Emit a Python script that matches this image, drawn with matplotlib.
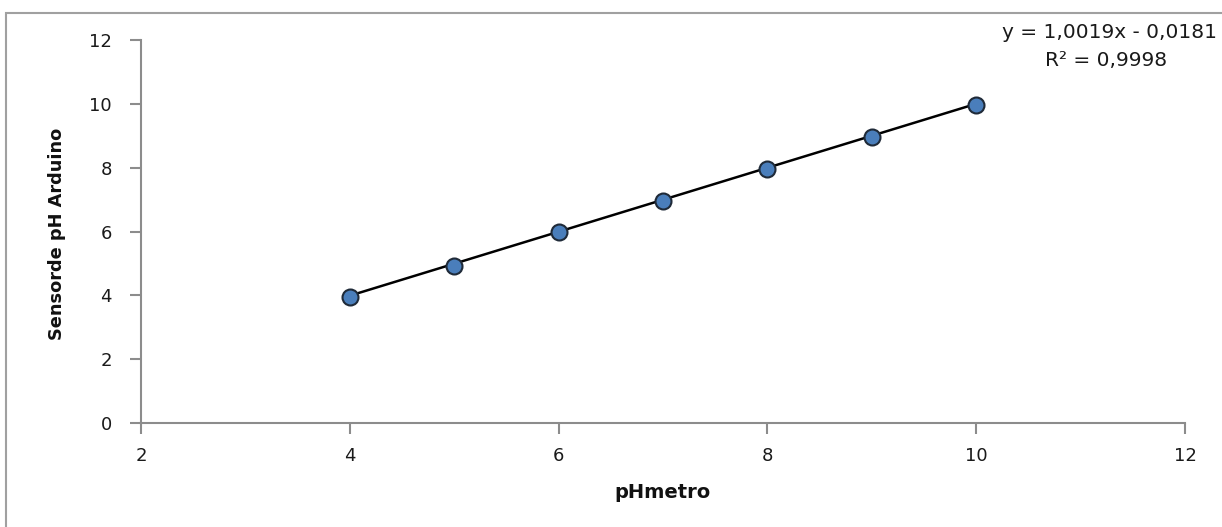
import matplotlib
matplotlib.use("Agg")
import matplotlib.pyplot as plt
import numpy as np
from matplotlib.patches import Rectangle

# --- data ---
ph_metro = [4, 5, 6, 7, 8, 9, 10]
sensor_arduino = [3.95, 4.93, 5.97, 6.97, 7.95, 8.97, 9.97]

# linear trendline shown on the chart
slope = 1.0019
intercept = -0.0181
eq_label = "y = 1,0019x - 0,0181"
r2_label = "R² = 0,9998"

x_ticks = [2, 4, 6, 8, 10, 12]
y_ticks = [0, 2, 4, 6, 8, 10, 12]

plt.rcParams['font.family'] = ['DejaVu Sans']

fig = plt.figure(figsize=(12.22, 5.27), dpi=100)
ax = fig.add_axes([0.1154, 0.1973, 0.8543, 0.7268])

# outer chart-area border (cut off on the right/bottom in the reference)
fig.patches.append(Rectangle((6 / 1222, -0.02), 1.1, 1 - 13 / 527 + 0.02,
                             transform=fig.transFigure, fill=False,
                             edgecolor='#a0a0a0', linewidth=1.5))

# trendline
xs = np.array([min(ph_metro), max(ph_metro)])
ax.plot(xs, slope * xs + intercept, color='black', linewidth=1.8, zorder=2)

# points
ax.plot(ph_metro, sensor_arduino, linestyle='none', marker='o', markersize=11.5,
        markerfacecolor='#4a7ebb', markeredgecolor='#1f2a38', markeredgewidth=1.5,
        zorder=3)

ax.set_xlim(2, 12)
ax.set_ylim(0, 12)
ax.set_xticks(x_ticks)
ax.set_yticks(y_ticks)

for side in ['top', 'right']:
    ax.spines[side].set_visible(False)
for side in ['left', 'bottom']:
    ax.spines[side].set_color('#8c8c8c')
    ax.spines[side].set_linewidth(1.5)
ax.tick_params(axis='both', direction='out', length=8, width=1.5,
               color='#8c8c8c', labelsize=13, labelcolor='#1a1a1a')
ax.tick_params(axis='x', pad=9)
ax.tick_params(axis='y', pad=13)

fig.text(663 / 1222, 1 - 493 / 527, 'pHmetro', fontsize=14, fontweight='bold',
         ha='center', va='center', color='#111111')
fig.text(57 / 1222, 1 - 234 / 527, 'Sensorde pH Arduino', fontsize=12.8,
         fontweight='bold', rotation=90, ha='center', va='center', color='#111111')

fig.text(1110 / 1222, 1 - 33 / 527, eq_label, fontsize=14.5, ha='center', va='center',
         color='#1a1a1a')
fig.text(1106 / 1222, 1 - 60 / 527, r2_label, fontsize=14.5, ha='center', va='center',
         color='#1a1a1a')

fig.savefig('out.png', dpi=100)
